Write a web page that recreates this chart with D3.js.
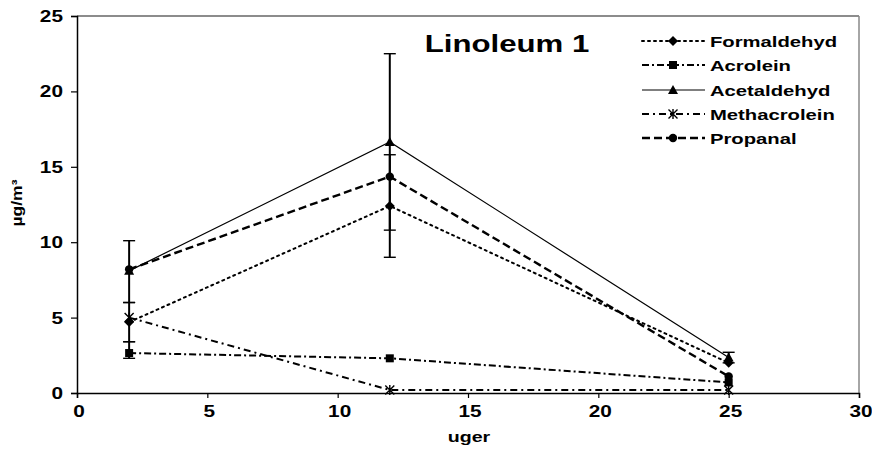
<!DOCTYPE html>
<html><head><meta charset="utf-8">
<script src="https://cdn.jsdelivr.net/npm/d3@7"></script>
<style>body{margin:0;background:#fff}svg{display:block}</style>
</head><body><svg id="c" width="872" height="452"></svg>
<script>
const xValues = [2, 12, 25];
const seriesNames = ["Formaldehyd", "Acrolein", "Acetaldehyd", "Methacrolein", "Propanal"];
const formaldehyd = [4.7, 12.4, 2.0];
const acrolein = [2.65, 2.3, 0.7];
const acetaldehyd = [8.1, 16.65, 2.35];
const methacrolein = [5.0, 0.2, 0.2];
const propanal = [8.2, 14.35, 1.1];
// error bars [low, high] per x
const formaldehydErr = [[3.4, 6.0], [9.0, 15.8], null];
const acroleinErr = [[2.3, 3.4], null, null];
const acetaldehydErr = [[6.0, 10.1], [10.8, 22.5], [2.0, 2.7]];
const xTicks = [0, 5, 10, 15, 20, 25, 30];
const yTicks = [0, 5, 10, 15, 20, 25];
const title = "Linoleum 1";
const xLabel = "uger";
const yLabel = "µg/m³";

const svg = d3.select("#c");
const x = d3.scaleLinear().domain([0, 30]).range([77, 859]);
const y = d3.scaleLinear().domain([0, 25]).range([393, 16]);
const FONT = "'Liberation Sans', Arial, sans-serif";
const SX = 1.3;

function stext(g, tx, ty, str, size, anchor, sx, rot) {
  return g.append("text")
    .attr("transform", `translate(${tx},${ty})` + (rot ? ` rotate(${rot})` : "") + ` scale(${sx},1)`)
    .attr("text-anchor", anchor).attr("font-family", FONT).attr("font-weight", "bold")
    .attr("font-size", size).attr("fill", "#000").text(str);
}

// frame
svg.append("line").attr("x1", x(0)).attr("x2", x(30)).attr("y1", y(25)).attr("y2", y(25)).attr("stroke", "#666").attr("stroke-width", 1.5);
svg.append("line").attr("x1", x(30)).attr("x2", x(30)).attr("y1", y(25)).attr("y2", y(0)).attr("stroke", "#888").attr("stroke-width", 1.5);

// axes
const yAxis = d3.axisLeft(y).tickValues(yTicks).tickSize(6).tickFormat("");
const xAxis = d3.axisBottom(x).tickValues(xTicks).tickSize(5).tickFormat("");
const gy = svg.append("g").attr("transform", `translate(${x(0)},0)`).call(yAxis);
const gx = svg.append("g").attr("transform", `translate(0,${y(0)})`).call(xAxis);
[gy, gx].forEach(g => { g.select(".domain").attr("stroke", "#000").attr("stroke-width", 1.5); g.selectAll(".tick line").attr("stroke", "#000").attr("stroke-width", 1.2); });

yTicks.forEach(v => stext(svg, 63, y(v) + 6, String(v), 16, "end", SX));
xTicks.forEach(v => stext(svg, x(v) + 2, 417, String(v), 16, "middle", SX));
stext(svg, 469, 442, xLabel, 14, "middle", 1.4);
stext(svg, 22, 203, yLabel, 14, "middle", 1.25, -90);
stext(svg, 507, 52, title, 24, "middle", 1.3);

const series = [
  {name: "Formaldehyd", vals: formaldehyd, dash: "2,4", w: 2, cap: "round", sym: "diamond"},
  {name: "Acrolein", vals: acrolein, dash: "7,3,2,3", w: 2, cap: "butt", sym: "square"},
  {name: "Acetaldehyd", vals: acetaldehyd, dash: null, w: 1.2, cap: "butt", sym: "triangle"},
  {name: "Methacrolein", vals: methacrolein, dash: "7,4,2,4", w: 2, cap: "butt", sym: "asterisk"},
  {name: "Propanal", vals: propanal, dash: "8,4", w: 2.4, cap: "butt", sym: "circle"}
];
const errs = [formaldehydErr, acroleinErr, acetaldehydErr, null, null];

function marker(g, cx, cy, sym) {
  if (sym === "diamond") g.append("path").attr("d", `M${cx},${cy-5}L${cx+5},${cy}L${cx},${cy+5}L${cx-5},${cy}Z`).attr("fill", "#000");
  else if (sym === "square") g.append("rect").attr("x", cx-4).attr("y", cy-4).attr("width", 8).attr("height", 8).attr("fill", "#000");
  else if (sym === "triangle") g.append("path").attr("d", `M${cx},${cy-5}L${cx+5},${cy+4}L${cx-5},${cy+4}Z`).attr("fill", "#000");
  else if (sym === "circle") g.append("circle").attr("cx", cx).attr("cy", cy).attr("r", 4.2).attr("fill", "#000");
  else if (sym === "asterisk") g.append("path").attr("d", `M${cx},${cy-5}V${cy+5}M${cx-4.5},${cy-4.5}L${cx+4.5},${cy+4.5}M${cx+4.5},${cy-4.5}L${cx-4.5},${cy+4.5}`).attr("stroke", "#000").attr("stroke-width", 1.4).attr("fill", "none");
}

// error bars
errs.forEach(e => {
  if (!e) return;
  e.forEach((r, i) => {
    if (!r) return;
    const px = x(xValues[i]);
    svg.append("line").attr("x1", px).attr("x2", px).attr("y1", y(r[0])).attr("y2", y(r[1])).attr("stroke", "#000").attr("stroke-width", 2);
    [r[0], r[1]].forEach(v => svg.append("line").attr("x1", px-6).attr("x2", px+6).attr("y1", y(v)).attr("y2", y(v)).attr("stroke", "#000").attr("stroke-width", 1.4));
  });
});

const line = d3.line().x((d, i) => x(xValues[i])).y(d => y(d));
series.forEach(s => {
  const p = svg.append("path").attr("d", line(s.vals)).attr("fill", "none").attr("stroke", "#000")
    .attr("stroke-width", s.w).attr("stroke-linecap", s.cap);
  if (s.dash) p.attr("stroke-dasharray", s.dash);
});
series.forEach(s => s.vals.forEach((v, i) => marker(svg, x(xValues[i]), y(v), s.sym)));

// legend
const rows = [41, 65, 90, 114, 138];
series.forEach((s, i) => {
  const ly = rows[i];
  const p = svg.append("line").attr("x1", 642).attr("x2", 705).attr("y1", ly).attr("y2", ly).attr("stroke", "#000")
    .attr("stroke-width", s.w).attr("stroke-linecap", s.cap);
  if (s.dash) p.attr("stroke-dasharray", s.dash);
  marker(svg, 673, ly, s.sym);
  stext(svg, 710, ly + 5.5, s.name, 15, "start", 1.35);
});
</script></body></html>
